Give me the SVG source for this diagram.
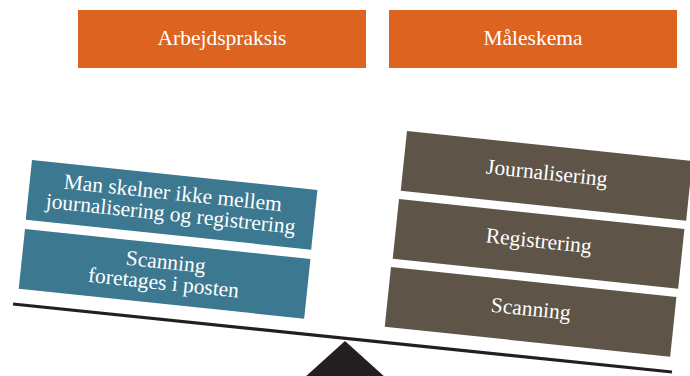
<svg xmlns="http://www.w3.org/2000/svg" width="690" height="376" viewBox="0 0 690 376">
  <style>
    .head { fill: #DD6320; }
    .blue { fill: #3D7891; }
    .brown { fill: #5E5448; }
    text { font-family: "Liberation Serif", "Times New Roman", serif; font-size: 21.5px; fill: #FFFFFF; text-anchor: middle; }
  </style>
  <defs>
    <rect id="tile" x="0" y="0" width="287" height="60"/>
  </defs>

  <rect width="690" height="376" fill="#FFFFFF"/>

  <!-- column headings -->
  <g id="arbejdspraksis">
    <rect class="head" x="78" y="10" width="288" height="58"/>
    <text x="222" y="45">Arbejdspraksis</text>
  </g>
  <g id="maaleskema">
    <rect class="head" x="389" y="10" width="288" height="58"/>
    <text x="533" y="45">Måleskema</text>
  </g>

  <!-- left pan: tilted tiles -->
  <g id="skelner" transform="translate(32,160) rotate(6)">
    <use href="#tile" class="blue"/>
    <text x="143.5" y="25">Man skelner ikke mellem</text>
    <text x="143.5" y="46">journalisering og registrering</text>
  </g>
  <g id="scanning-posten" transform="translate(25,229) rotate(6)">
    <use href="#tile" class="blue"/>
    <text x="143.5" y="25">Scanning</text>
    <text x="143.5" y="46">foretages i posten</text>
  </g>

  <!-- right pan: tilted tiles -->
  <g id="journalisering" transform="translate(407,131) rotate(6)">
    <use href="#tile" class="brown"/>
    <text x="143.5" y="34">Journalisering</text>
  </g>
  <g id="registrering" transform="translate(399,199) rotate(6)">
    <use href="#tile" class="brown"/>
    <text x="143.5" y="34">Registrering</text>
  </g>
  <g id="scanning" transform="translate(391,267) rotate(6)">
    <use href="#tile" class="brown"/>
    <text x="143.5" y="34">Scanning</text>
  </g>

  <!-- balance beam and fulcrum -->
  <g id="balance">
    <line x1="13" y1="304" x2="672" y2="372" stroke="#231F20" stroke-width="3.2"/>
    <polygon points="345,341 304,378 386,378" fill="#231F20"/>
  </g>
</svg>
